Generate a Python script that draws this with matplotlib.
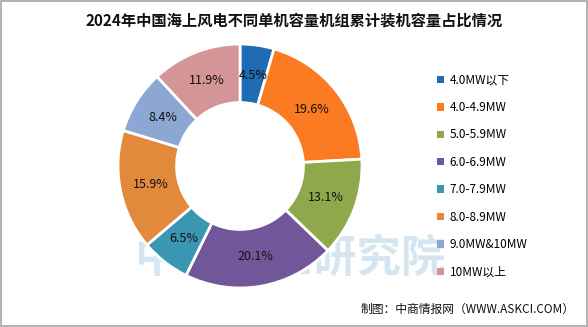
import matplotlib
matplotlib.use("Agg")
import numpy as np
import matplotlib.pyplot as plt
from matplotlib.patches import Rectangle, Patch

plt.rcParams['font.family'] = ['Noto Sans CJK SC', 'DejaVu Sans']

title = "2024年中国海上风电不同单机容量机组累计装机容量占比情况"
categories = ["4.0MW以下", "4.0-4.9MW", "5.0-5.9MW", "6.0-6.9MW",
              "7.0-7.9MW", "8.0-8.9MW", "9.0MW&10MW", "10MW以上"]
shares = [4.5, 19.6, 13.1, 20.1, 6.5, 15.9, 8.4, 11.9]
colors = ["#1f6cb4", "#fa7b22", "#8ea84b", "#71579a",
          "#3b97b1", "#e28a3c", "#8ca7d3", "#d49596"]

W, H = 588, 327
fig = plt.figure(figsize=(W / 100, H / 100), dpi=100)

# frame
fig.patches.append(Rectangle((0.001, 0.002), 0.997, 0.995, transform=fig.transFigure,
                             fill=False, edgecolor="#a6a6a6", linewidth=1.2))

fig.text(0.5, 1 - 21 / H, title, ha="center", va="center",
         fontsize=11, fontweight="bold", color="#111111")

# watermark
fig.text(290 / W, 1 - 258 / H, "中商产业研究院", ha="center", va="center",
         fontsize=32, fontweight="bold", color="#d6e6f0", zorder=0)

cx, cy, r = 240, 166, 122
ax = fig.add_axes([(cx - r) / W, (H - cy - r) / H, 2 * r / W, 2 * r / H])
ax.set_zorder(1)
ax.patch.set_alpha(0)
wedges, texts = ax.pie(
    shares, colors=colors, startangle=90, counterclock=False, radius=1,
    wedgeprops=dict(width=0.48, edgecolor="white", linewidth=2),
)
for w, v in zip(wedges, shares):
    ang = np.deg2rad((w.theta1 + w.theta2) / 2)
    ax.text(0.75 * np.cos(ang), 0.75 * np.sin(ang), f"{v}%", ha="center",
            va="center", fontsize=9, color="#111111")
ax.set_xlim(-1, 1)
ax.set_ylim(-1, 1)
ax.set_aspect("equal")
ax.axis("off")

handles = [Patch(facecolor=c, edgecolor="none") for c in colors]
fig.legend(handles, categories, loc="upper left",
           bbox_to_anchor=(426 / W, 1 - 63 / H), frameon=False,
           fontsize=8.5, handlelength=0.6, handleheight=0.6,
           handletextpad=0.5, labelspacing=1.22)

fig.text(575 / W, 1 - 309 / H, "制图：中商情报网（WWW.ASKCI.COM）", ha="right",
         va="center", fontsize=8.5, color="#111111")

fig.savefig("out.png", dpi=100)
